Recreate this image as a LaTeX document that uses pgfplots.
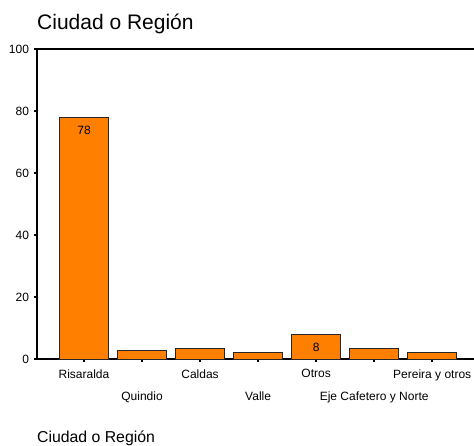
\documentclass[border=0pt]{standalone}
\usepackage{pgfplots}
\pgfplotsset{compat=1.18}
\usepackage{fontspec}
\setmainfont{Liberation Sans}
\definecolor{barorange}{HTML}{FF8000}

\begin{document}
\begin{tikzpicture}[x=1pt,y=1pt]
    \useasboundingbox (0,0) rectangle (474,445);
    \begin{axis}[
        at={(37pt,86pt)},
        anchor=south west,
        scale only axis,
        width=437pt,
        height=310pt,
        xmin=-0.81, xmax=6.72,
        ymin=0, ymax=100,
        ytick={0,20,40,60,80,100},
        xtick={0,1,2,3,4,5,6},
        xticklabels={Risaralda,Quindio,Caldas,Valle,Otros,Eje Cafetero y Norte,Pereira y otros},
        axis x line*=bottom,
        axis y line*=left,
        axis line style={line width=1.3pt, -},
        tick align=outside,
        major tick length=3pt,
        tick style={black, line width=1.5pt},
        /pgf/number format/assume math mode=true,
        tick label style={font=\fontsize{12}{14}\selectfont},
        x tick label style={yshift={-4pt-mod(\ticknum,2)*22pt}},
        y tick label style={xshift=-1.5pt},
        ybar,
        bar width=49pt,
        bar shift=0pt,
    ]
        \addplot[fill=barorange, draw=black!85, line width=0.8pt]
            coordinates {(0,78) (1,2.8) (2,3.4) (3,2.0) (4,8.0) (5,3.4) (6,2.0)};
        \addplot[draw=none, fill=none, forget plot,
            nodes near coords,
            every node near coord/.style={anchor=center, yshift=-13pt, font=\fontsize{12}{13}\selectfont, text=black},
            /pgf/number format/assume math mode=true]
            coordinates {(0,78) (4,8)};
        \draw[line width=1.3pt] (rel axis cs:0,1) -- (rel axis cs:1,1);
    \end{axis}
    \node[anchor=base west, inner sep=0, font=\fontsize{21}{24}\selectfont] at (37,415) {Ciudad o Región};
    \node[anchor=base west, inner sep=0, font=\fontsize{15.8}{18}\selectfont] at (37,3) {Ciudad o Región};
\end{tikzpicture}
\end{document}
